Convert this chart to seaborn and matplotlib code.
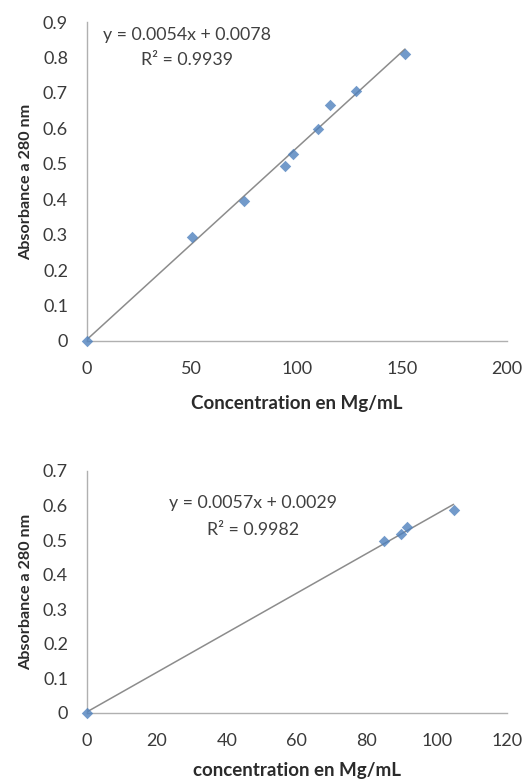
import numpy as np
import pandas as pd
import matplotlib
matplotlib.use('Agg')
import matplotlib.pyplot as plt
import seaborn as sns

# top calibration curve
conc_1 = [0, 50, 75, 94.5, 98, 110, 116, 128, 151.5]
abs_1 = [0, 0.293, 0.395, 0.495, 0.527, 0.597, 0.667, 0.704, 0.81]
eq_1 = 'y = 0.0054x + 0.0078'
r2_1 = 'R² = 0.9939'

# bottom calibration curve
conc_2 = [0, 85, 89.8, 91.6, 104.8]
abs_2 = [0, 0.498, 0.519, 0.538, 0.587]
eq_2 = 'y = 0.0057x + 0.0029'
r2_2 = 'R² = 0.9982'

sns.set_style('white')
plt.rcParams['font.family'] = ['Lato', 'DejaVu Sans']

marker_color = '#4f81bd'
line_color = '#8c8c8c'
spine_color = '#b0b0b0'
text_color = '#404040'


def calib_plot(ax, x, y, xlabel, xlim, xticks, ylim, yticks, eq, r2, txt_x, txt_y, xlab_y):
    df = pd.DataFrame({'conc': x, 'abs': y})
    sns.regplot(x='conc', y='abs', data=df, ax=ax, ci=None, truncate=True,
                marker='D', color=marker_color,
                scatter_kws={'s': 34, 'color': marker_color, 'zorder': 3, 'linewidths': 0},
                line_kws={'color': line_color, 'linewidth': 1.1, 'zorder': 2})
    for c in ax.collections:
        c.set_clip_on(False)
    ax.set_xlim(xlim)
    ax.set_ylim(ylim)
    ax.set_xticks(xticks)
    ax.set_yticks(yticks)
    ax.set_yticklabels(['0' if t == 0 else f'{t:.1f}' for t in yticks])
    ax.set_xlabel(xlabel, fontsize=13.5, fontweight='bold', color='#2b2b2b')
    ax.set_ylabel('Absorbance a 280 nm', fontsize=11.6, fontweight='bold', color='#2b2b2b')
    ax.xaxis.set_label_coords(0.5, xlab_y)
    ax.yaxis.set_label_coords(-0.129, 0.5)
    for s in ['top', 'right']:
        ax.spines[s].set_visible(False)
    for s in ['left', 'bottom']:
        ax.spines[s].set_color(spine_color)
        ax.spines[s].set_linewidth(1.0)
    ax.tick_params(axis='both', direction='out', length=3.5, width=0.8, color=spine_color,
                   labelsize=13, labelcolor='#3a3a3a')
    ax.tick_params(axis='y', pad=10)
    ax.tick_params(axis='x', pad=11)
    ax.text(txt_x, txt_y[0], eq, ha='center', va='center', fontsize=12.8, color=text_color)
    ax.text(txt_x, txt_y[1], r2, ha='center', va='center', fontsize=12.8, color=text_color)


fig = plt.figure(figsize=(5.23, 7.83), dpi=100)
ax1 = fig.add_axes([0.166, 0.5645, 0.803, 0.4074])
ax2 = fig.add_axes([0.166, 0.0894, 0.803, 0.3091])

calib_plot(ax1, conc_1, abs_1, 'Concentration en Mg/mL', (0, 200), [0, 50, 100, 150, 200],
           (0, 0.9), [0, 0.1, 0.2, 0.3, 0.4, 0.5, 0.6, 0.7, 0.8, 0.9],
           eq_1, r2_1, 47.8, (0.863, 0.793), -0.169)
calib_plot(ax2, conc_2, abs_2, 'concentration en Mg/mL', (0, 120), [0, 20, 40, 60, 80, 100, 120],
           (0, 0.7), [0, 0.1, 0.2, 0.3, 0.4, 0.5, 0.6, 0.7],
           eq_2, r2_2, 47.6, (0.607, 0.529), -0.202)

fig.savefig('out.png', dpi=100)
